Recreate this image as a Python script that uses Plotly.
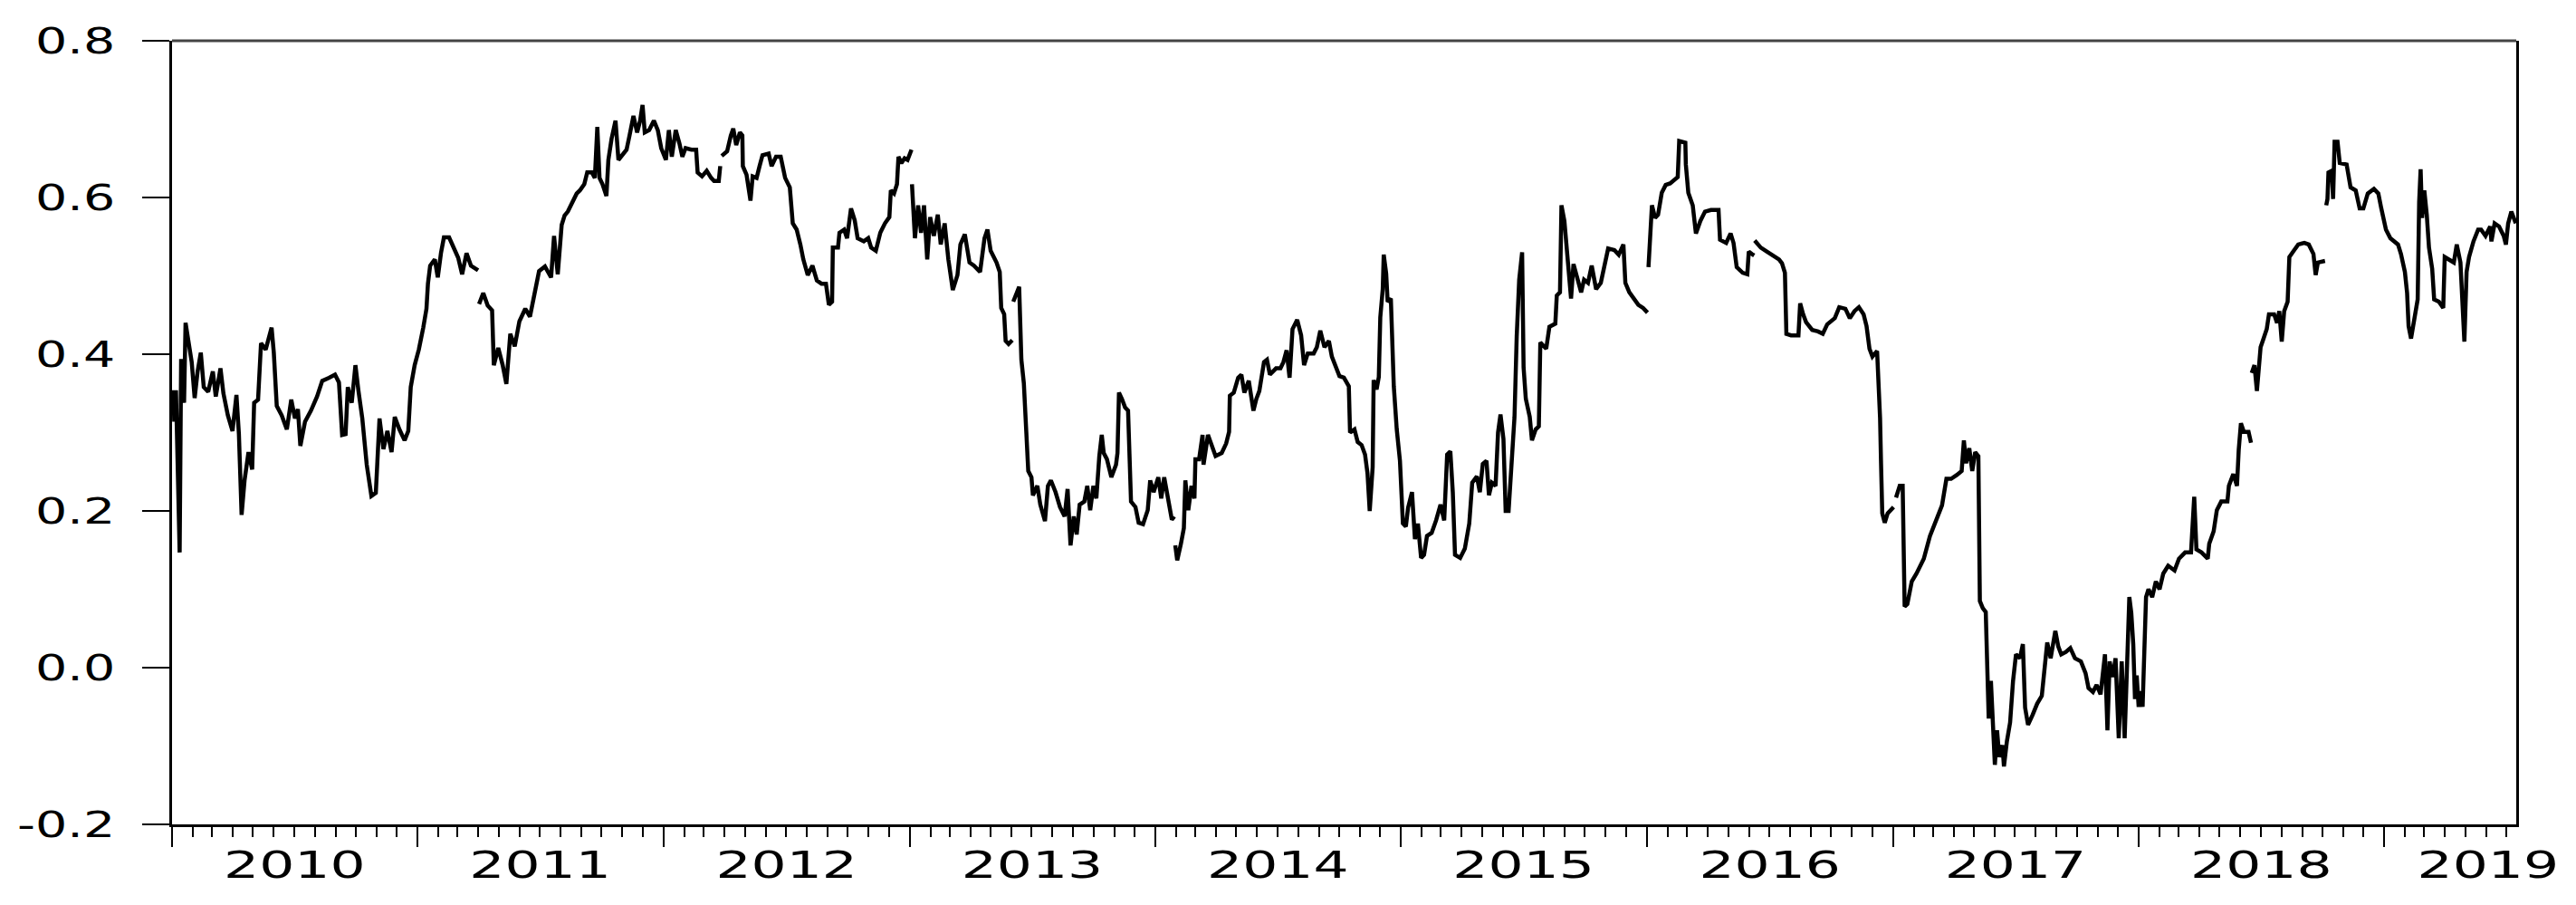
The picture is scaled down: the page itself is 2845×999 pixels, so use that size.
import pandas as pd
import plotly.graph_objects as go

# decimal-year positions and values (None = break in line)
t_2010 = [2010.006,2010.009,2010.016,2010.031,2010.037,2010.049,2010.055,2010.068,2010.080,2010.092,2010.104,2010.117,2010.129,2010.147,2010.166,2010.178,2010.197,2010.209,2010.227,2010.246,2010.262,2010.272,2010.283,2010.295,2010.311,2010.326,2010.334,2010.350,2010.362,2010.381,2010.405,2010.414,2010.426,2010.446,2010.467,2010.485,2010.500,2010.512,2010.522,2010.541,2010.565,2010.590,2010.611,2010.639,2010.663,2010.679,2010.692,2010.706,2010.715,2010.731,2010.746,2010.758,2010.774,2010.792,2010.811,2010.829,2010.844,2010.860,2010.876,2010.893,2010.906,2010.925,2010.946,2010.961,2010.971,2010.987]
v_2010 = [0.354,0.314,0.354,0.147,0.394,0.338,0.440,0.410,0.390,0.344,0.378,0.402,0.358,0.352,0.378,0.346,0.382,0.350,0.322,0.302,0.348,0.298,0.195,0.239,0.275,0.253,0.338,0.342,0.414,0.406,0.434,0.402,0.334,0.322,0.304,0.342,0.318,0.330,0.283,0.314,0.328,0.346,0.366,0.370,0.374,0.364,0.297,0.298,0.358,0.338,0.386,0.354,0.318,0.259,0.219,0.223,0.318,0.279,0.302,0.275,0.320,0.304,0.290,0.302,0.358,0.386]

t_2011 = [2011.004,2011.022,2011.035,2011.041,2011.050,2011.069,2011.081,2011.094,2011.106,2011.127,2011.146,2011.164,2011.180,2011.198,2011.216,2011.245,2011.247,2011.249,2011.266,2011.284,2011.302,2011.309,2011.327,2011.345,2011.360,2011.376,2011.394,2011.413,2011.437,2011.456,2011.474,2011.493,2011.517,2011.542,2011.554,2011.569,2011.585,2011.597,2011.610,2011.622,2011.634,2011.646,2011.659,2011.677,2011.689,2011.708,2011.720,2011.730,2011.739,2011.751,2011.767,2011.775,2011.788,2011.804,2011.816,2011.831,2011.849,2011.861,2011.877,2011.892,2011.904,2011.914,2011.923,2011.941,2011.960,2011.976,2011.990]
v_2011 = [0.406,0.434,0.458,0.490,0.513,0.521,0.498,0.529,0.549,0.549,0.535,0.523,0.502,0.529,0.513,0.507,None,0.464,0.478,0.462,0.456,0.386,0.408,0.386,0.362,0.426,0.410,0.442,0.458,0.448,0.474,0.506,0.512,0.498,0.551,0.502,0.565,0.577,0.582,0.590,0.598,0.605,0.609,0.617,0.632,0.632,0.625,0.690,0.625,0.617,0.602,0.648,0.675,0.698,0.648,0.654,0.661,0.679,0.704,0.683,0.698,0.718,0.683,0.686,0.698,0.686,0.663]

t_2012 = [2012.009,2012.021,2012.033,2012.049,2012.064,2012.076,2012.089,2012.113,2012.132,2012.138,2012.156,2012.175,2012.193,2012.205,2012.224,2012.230,2012.233,2012.236,2012.258,2012.273,2012.283,2012.295,2012.310,2012.320,2012.322,2012.337,2012.353,2012.362,2012.378,2012.390,2012.402,2012.427,2012.439,2012.457,2012.476,2012.494,2012.513,2012.525,2012.541,2012.556,2012.568,2012.586,2012.605,2012.623,2012.642,2012.660,2012.672,2012.685,2012.688,2012.709,2012.715,2012.734,2012.746,2012.762,2012.777,2012.789,2012.814,2012.832,2012.844,2012.863,2012.881,2012.900,2012.918,2012.924,2012.937,2012.949,2012.955,2012.967,2012.980,2012.992]
v_2012 = [0.648,0.686,0.652,0.686,0.669,0.652,0.663,0.661,0.661,0.632,0.627,0.634,0.625,0.621,0.621,0.640,None,0.653,0.659,0.679,0.688,0.667,0.683,0.679,0.640,0.629,0.596,0.627,0.625,0.640,0.654,0.656,0.640,0.652,0.652,0.625,0.613,0.567,0.559,0.540,0.521,0.501,0.513,0.494,0.490,0.490,0.463,0.467,0.536,0.536,0.555,0.559,0.548,0.586,0.571,0.548,0.544,0.548,0.536,0.532,0.555,0.567,0.575,0.609,0.605,0.617,0.652,0.644,0.650,0.648]

t_2013 = [2013.008,2013.009,2013.010,2013.022,2013.035,2013.047,2013.059,2013.072,2013.084,2013.099,2013.115,2013.127,2013.143,2013.158,2013.176,2013.195,2013.207,2013.225,2013.244,2013.262,2013.287,2013.305,2013.317,2013.330,2013.354,2013.367,2013.373,2013.385,2013.391,2013.403,2013.418,2013.420,2013.422,2013.446,2013.455,2013.465,2013.475,2013.483,2013.496,2013.502,2013.520,2013.532,2013.551,2013.563,2013.575,2013.594,2013.612,2013.631,2013.643,2013.655,2013.668,2013.680,2013.692,2013.711,2013.723,2013.735,2013.748,2013.760,2013.772,2013.782,2013.790,2013.803,2013.821,2013.840,2013.846,2013.852,2013.864,2013.877,2013.889,2013.897,2013.901,2013.919,2013.932,2013.950,2013.969,2013.979,2013.993]
v_2013 = [0.661,None,0.617,0.548,0.590,0.555,0.590,0.521,0.575,0.551,0.578,0.540,0.567,0.521,0.482,0.501,0.540,0.553,0.517,0.513,0.505,0.548,0.559,0.532,0.517,0.505,0.459,0.451,0.417,0.413,0.418,None,0.467,0.486,0.393,0.363,0.301,0.251,0.243,0.220,0.232,0.208,0.187,0.232,0.239,0.224,0.205,0.193,0.228,0.156,0.193,0.170,0.208,0.212,0.232,0.201,0.232,0.216,0.270,0.297,0.274,0.266,0.243,0.259,0.274,0.351,0.343,0.332,0.328,0.255,0.212,0.205,0.185,0.183,0.201,0.239,0.224]

t_2014 = [2014.012,2014.024,2014.036,2014.045,2014.055,2014.067,2014.077,2014.079,2014.081,2014.089,2014.104,2014.116,2014.122,2014.134,2014.147,2014.159,2014.163,2014.178,2014.192,2014.196,2014.214,2014.233,2014.245,2014.270,2014.288,2014.300,2014.303,2014.319,2014.337,2014.350,2014.362,2014.380,2014.389,2014.399,2014.411,2014.423,2014.442,2014.454,2014.466,2014.491,2014.509,2014.521,2014.534,2014.546,2014.558,2014.577,2014.593,2014.605,2014.620,2014.644,2014.657,2014.671,2014.688,2014.706,2014.718,2014.730,2014.749,2014.767,2014.780,2014.787,2014.792,2014.810,2014.823,2014.839,2014.853,2014.863,2014.872,2014.884,2014.888,2014.900,2014.909,2014.915,2014.925,2014.929,2014.939,2014.945,2014.958,2014.970,2014.982,2014.995]
v_2014 = [0.243,0.216,0.243,0.228,0.208,0.189,0.193,None,0.156,0.137,0.158,0.178,0.239,0.201,0.232,0.216,0.266,0.266,0.297,0.259,0.297,0.282,0.270,0.274,0.286,0.301,0.347,0.351,0.370,0.374,0.351,0.366,0.347,0.328,0.343,0.353,0.390,0.393,0.374,0.382,0.382,0.390,0.405,0.370,0.432,0.444,0.424,0.386,0.401,0.401,0.409,0.430,0.409,0.417,0.397,0.386,0.372,0.370,0.363,0.359,0.300,0.304,0.288,0.284,0.272,0.248,0.200,0.256,0.367,0.355,0.371,0.447,0.483,0.527,0.503,0.467,0.471,0.359,0.304,0.264]

t_2015 = [2015.007,2015.019,2015.028,2015.044,2015.056,2015.068,2015.081,2015.093,2015.105,2015.124,2015.142,2015.160,2015.175,2015.187,2015.200,2015.210,2015.219,2015.240,2015.259,2015.277,2015.289,2015.308,2015.320,2015.332,2015.347,2015.357,2015.369,2015.384,2015.394,2015.404,2015.416,2015.425,2015.437,2015.449,2015.461,2015.470,2015.480,2015.492,2015.498,2015.507,2015.523,2015.532,2015.547,2015.560,2015.566,2015.590,2015.603,2015.627,2015.633,2015.646,2015.652,2015.664,2015.674,2015.679,2015.691,2015.701,2015.719,2015.732,2015.744,2015.760,2015.775,2015.793,2015.812,2015.830,2015.842,2015.867,2015.885,2015.904,2015.912,2015.928,2015.947,2015.965,2015.984]
v_2015 = [0.184,0.180,0.204,0.224,0.164,0.184,0.140,0.144,0.168,0.172,0.188,0.208,0.188,0.272,0.276,0.224,0.144,0.140,0.152,0.184,0.236,0.244,0.224,0.260,0.264,0.220,0.236,0.232,0.300,0.323,0.292,0.200,0.200,0.272,0.320,0.423,0.495,0.530,0.383,0.343,0.320,0.290,0.304,0.308,0.415,0.407,0.435,0.439,0.475,0.479,0.590,0.570,0.538,0.515,0.471,0.515,0.495,0.479,0.495,0.491,0.513,0.483,0.491,0.515,0.535,0.533,0.527,0.540,0.491,0.479,0.471,0.463,0.459]

t_2016 = [2016.002,2016.004,2016.006,2016.014,2016.020,2016.033,2016.045,2016.060,2016.076,2016.094,2016.113,2016.125,2016.131,2016.156,2016.158,2016.168,2016.186,2016.199,2016.217,2016.236,2016.260,2016.291,2016.297,2016.322,2016.340,2016.352,2016.365,2016.371,2016.389,2016.408,2016.414,2016.426,2016.436,2016.437,2016.438,2016.463,2016.487,2016.512,2016.537,2016.549,2016.561,2016.567,2016.586,2016.616,2016.623,2016.635,2016.647,2016.672,2016.696,2016.715,2016.733,2016.764,2016.782,2016.807,2016.825,2016.844,2016.862,2016.881,2016.893,2016.905,2016.917,2016.936,2016.942,2016.948,2016.952,2016.957,2016.967,2016.979]
v_2016 = [0.453,None,0.511,0.546,0.590,0.574,0.578,0.606,0.616,0.618,0.622,0.626,0.672,0.670,0.642,0.606,0.590,0.554,0.570,0.582,0.584,0.584,0.546,0.542,0.554,0.542,0.511,0.509,0.504,0.502,0.531,0.528,0.526,None,0.545,0.536,0.531,0.526,0.521,0.516,0.504,0.426,0.424,0.424,0.465,0.451,0.441,0.431,0.429,0.426,0.438,0.446,0.460,0.458,0.446,0.455,0.460,0.451,0.436,0.407,0.397,0.404,0.368,0.319,0.261,0.197,0.185,0.197]

t_2017 = [2017.003,2017.008,2017.013,2017.028,2017.040,2017.043,2017.048,2017.059,2017.077,2017.096,2017.126,2017.151,2017.175,2017.200,2017.218,2017.237,2017.261,2017.280,2017.289,2017.298,2017.311,2017.323,2017.335,2017.348,2017.354,2017.366,2017.378,2017.384,2017.390,2017.399,2017.406,2017.415,2017.424,2017.433,2017.446,2017.452,2017.464,2017.477,2017.489,2017.501,2017.517,2017.529,2017.538,2017.550,2017.569,2017.587,2017.606,2017.620,2017.628,2017.642,2017.661,2017.673,2017.685,2017.704,2017.722,2017.741,2017.765,2017.784,2017.796,2017.814,2017.829,2017.845,2017.863,2017.873,2017.882,2017.894,2017.906,2017.919,2017.931,2017.943,2017.956,2017.962,2017.970,2017.978,2017.985,2017.992]
v_2017 = [0.205,None,0.217,0.232,0.232,0.134,0.078,0.081,0.110,0.120,0.139,0.168,0.188,0.207,0.241,0.241,0.246,0.251,0.290,0.261,0.280,0.251,0.275,0.270,0.085,0.076,0.071,-0.012,-0.065,-0.017,-0.060,-0.124,-0.080,-0.114,-0.099,-0.126,-0.094,-0.070,-0.017,0.017,0.012,0.030,-0.051,-0.073,-0.060,-0.046,-0.036,0.012,0.032,0.012,0.047,0.027,0.017,0.020,0.025,0.012,0.008,-0.007,-0.026,-0.031,-0.022,-0.034,0.017,-0.080,0.008,-0.012,0.012,-0.090,0.008,-0.090,0.056,0.090,0.070,0.030,-0.040,-0.010]

t_2018 = [2018.000,2018.008,2018.016,2018.024,2018.030,2018.040,2018.055,2018.070,2018.085,2018.100,2018.120,2018.146,2018.164,2018.189,2018.213,2018.226,2018.235,2018.256,2018.281,2018.287,2018.305,2018.318,2018.336,2018.361,2018.367,2018.385,2018.400,2018.407,2018.416,2018.428,2018.447,2018.457,2018.458,2018.460,2018.471,2018.481,2018.490,2018.496,2018.508,2018.521,2018.530,2018.551,2018.563,2018.572,2018.582,2018.592,2018.606,2018.613,2018.631,2018.649,2018.674,2018.692,2018.711,2018.720,2018.729,2018.758,2018.760,2018.763,2018.768,2018.772,2018.785,2018.791,2018.797,2018.809,2018.818,2018.846,2018.862,2018.883,2018.899,2018.914,2018.932,2018.957,2018.975,2018.987]
v_2018 = [-0.050,-0.030,-0.050,0.030,0.090,0.100,0.090,0.110,0.100,0.120,0.130,0.124,0.139,0.147,0.147,0.218,0.151,0.147,0.139,0.158,0.174,0.201,0.212,0.212,0.232,0.247,0.232,0.278,0.312,0.301,0.301,0.287,None,0.376,0.386,0.353,0.386,0.409,0.420,0.432,0.451,0.451,0.440,0.455,0.416,0.455,0.467,0.524,0.532,0.540,0.542,0.540,0.528,0.501,0.517,0.519,None,0.590,0.598,0.632,0.634,0.598,0.671,0.671,0.644,0.642,0.613,0.609,0.586,0.586,0.605,0.611,0.605,0.586]

t_2019 = [2019.006,2019.024,2019.055,2019.067,2019.083,2019.092,2019.098,2019.108,2019.123,2019.135,2019.141,2019.147,2019.153,2019.162,2019.172,2019.181,2019.194,2019.202,2019.221,2019.239,2019.245,2019.264,2019.282,2019.294,2019.309,2019.325,2019.334,2019.344,2019.362,2019.381,2019.393,2019.411,2019.430,2019.435,2019.448,2019.466,2019.485,2019.494,2019.503,2019.516,2019.528,2019.534]
v_2019 = [0.559,0.548,0.540,0.528,0.505,0.478,0.436,0.420,0.451,0.470,0.594,0.636,0.574,0.609,0.578,0.536,0.509,0.470,0.467,0.459,0.524,0.521,0.517,0.540,0.517,0.416,0.505,0.524,0.544,0.559,0.559,0.551,0.563,0.544,0.567,0.563,0.551,0.540,0.567,0.582,0.574,0.567]

y_tick_vals = [-0.2, 0.0, 0.2, 0.4, 0.6, 0.8]
y_tick_text = ["-0.2", "0.0", "0.2", "0.4", "0.6", "0.8"]
year_label_dates = ["2010-07-02", "2011-07-02", "2012-07-02", "2013-07-02", "2014-07-02",
                    "2015-07-02", "2016-07-02", "2017-07-02", "2018-07-02", "2019-06-04"]
year_label_text = ["2010", "2011", "2012", "2013", "2014", "2015", "2016", "2017", "2018", "2019"]
x_start, x_end = "2010-01-01", "2019-07-16"

t_all = t_2010 + t_2011 + t_2012 + t_2013 + t_2014 + t_2015 + t_2016 + t_2017 + t_2018 + t_2019
v_all = v_2010 + v_2011 + v_2012 + v_2013 + v_2014 + v_2015 + v_2016 + v_2017 + v_2018 + v_2019

base = pd.Timestamp("2010-01-01")
dates = [base + pd.Timedelta(days=(t - 2010.0) * 365.25) for t in t_all]

fig = go.Figure()
fig.add_trace(go.Scatter(x=dates, y=v_all, mode="lines",
                         line=dict(color="black", width=4.5),
                         connectgaps=False, showlegend=False, hoverinfo="skip"))
# invisible carrier so the year-label axis is drawn
fig.add_trace(go.Scatter(x=[x_start, x_end], y=[None, None], mode="lines",
                         xaxis="x2", showlegend=False, hoverinfo="skip"))

xfont = dict(family="DejaVu Sans, Arial, sans-serif", size=41, color="black")
yfont = dict(family="DejaVu Sans, Arial, sans-serif", size=39, color="black")

fig.update_layout(
    width=2845, height=999,
    margin=dict(l=190, r=66, t=45, b=89, autoexpand=False),
    paper_bgcolor="white", plot_bgcolor="white",
    showlegend=False,
    xaxis=dict(
        type="date", range=[x_start, x_end], automargin=False,
        tick0="2010-01-01", dtick="M12",
        ticks="outside", ticklen=22, tickwidth=2, tickcolor="black",
        showticklabels=False,
        showline=True, linewidth=3, linecolor="black", mirror=False,
        showgrid=False, zeroline=False,
        minor=dict(dtick="M1", ticks="outside", ticklen=11, tickwidth=2,
                   tickcolor="black", showgrid=False),
    ),
    xaxis2=dict(
        type="date", range=[x_start, x_end], automargin=False,
        overlaying="x", anchor="y", side="bottom",
        tickvals=year_label_dates, ticktext=year_label_text,
        ticks="", showline=False, showgrid=False, zeroline=False,
        tickfont=xfont, ticklabelstandoff=17,
    ),
    yaxis=dict(
        range=[-0.2, 0.8], tickvals=y_tick_vals, ticktext=y_tick_text,
        automargin=False,
        ticks="outside", ticklen=30, tickwidth=2, tickcolor="black",
        showline=True, linewidth=3, linecolor="black", mirror=True,
        showgrid=False, zeroline=False,
        tickfont=yfont, ticklabelstandoff=22,
    ),
    shapes=[dict(type="line", xref="paper", yref="paper", x0=0, x1=1, y0=1, y1=1,
                 line=dict(color="#444444", width=3))],
)

# remove the default page margin, and widen the tick-label glyphs
# (the reference uses a horizontally stretched face)
stretch_js = """
document.body.style.margin = '0';
document.body.style.overflow = 'hidden';
var gd = document.getElementById('{plot_id}');
function widen(sel, k) {
  gd.querySelectorAll(sel).forEach(function (t) {
    if (t.getAttribute('textLength')) return;
    var w = t.getComputedTextLength();
    if (w > 0) {
      t.setAttribute('textLength', (w * k).toFixed(1));
      t.setAttribute('lengthAdjust', 'spacingAndGlyphs');
    }
  });
}
function run() { widen('g.x2tick > text', 1.5); widen('g.ytick > text', 1.42); }
run();
gd.on('plotly_afterplot', run);
"""

fig.write_html("out.html", post_script=stretch_js,
               config={"displayModeBar": False, "staticPlot": True})
